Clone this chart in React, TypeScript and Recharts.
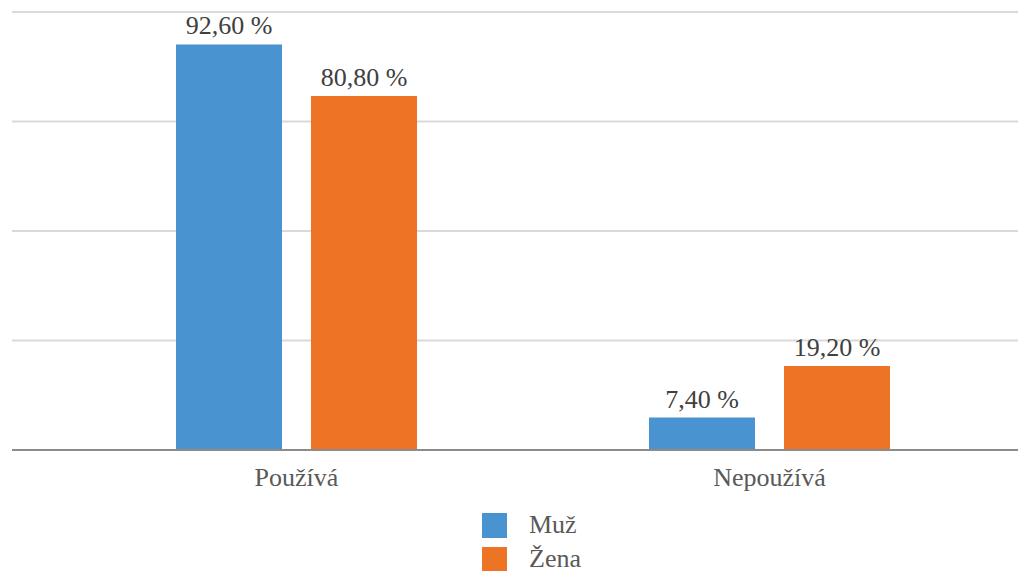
import { BarChart, Bar, XAxis, YAxis, CartesianGrid, LabelList } from "recharts";

const categories = ["Používá", "Nepoužívá"];
const seriesNames = ["Muž", "Žena"];
const muz = [92.6, 7.4];
const zena = [80.8, 19.2];
const yTicks = [0, 25, 50, 75, 100];

const COLORS = ["#4893D0", "#ED7425"];
const FONT = "'Liberation Serif', Tinos, Times";

const data = categories.map((name, i) => ({ name, muz: muz[i], zena: zena[i] }));

const fmt = (v: any) => `${Number(v).toFixed(2).replace(".", ",")} %`;

const css = `#root, #root *, #root svg text, .recharts-text { font-family: 'Liberation Serif', Tinos, Times !important; }`;

export default function App() {
    return (
        <div style={{ position: "relative", width: 1018, height: 563, fontFamily: FONT, fontSize: 26 }}>
            <style>{css}</style>
            <BarChart
                width={1018}
                height={563}
                data={data}
                margin={{ top: 4, right: 0, left: 4, bottom: 91 }}
                barSize={106}
                barGap={29}
            >
                <CartesianGrid vertical={false} stroke="#d9d9d9" strokeWidth={2} />
                <YAxis hide domain={[0, 100]} ticks={yTicks} />
                <XAxis
                    dataKey="name"
                    height={30}
                    padding={{ left: 48, right: 20 }}
                    axisLine={{ stroke: "#8c8c8c", strokeWidth: 2 }}
                    tickLine={false}
                    tickSize={0}
                    tickMargin={18}
                    tick={{ fill: "#595959", fontSize: 26, fontFamily: FONT }}
                />
                <Bar dataKey="muz" name={seriesNames[0]} fill={COLORS[0]} isAnimationActive={false}>
                    <LabelList dataKey="muz" position="top" offset={10} formatter={fmt} fill="#404040" fontSize={26} fontFamily={FONT} />
                </Bar>
                <Bar dataKey="zena" name={seriesNames[1]} fill={COLORS[1]} isAnimationActive={false}>
                    <LabelList dataKey="zena" position="top" offset={10} formatter={fmt} fill="#404040" fontSize={26} fontFamily={FONT} />
                </Bar>
            </BarChart>
            <div style={{ position: "absolute", left: 474, top: 500 }}>
                {seriesNames.map((n, i) => (
                    <div key={n} style={{ display: "flex", alignItems: "center", height: 34 }}>
                        <div style={{ width: 25, height: 25, background: COLORS[i], marginRight: 22 }} />
                        <span style={{ fontFamily: FONT, fontSize: 26, color: "#595959", lineHeight: "26px" }}>{n}</span>
                    </div>
                ))}
            </div>
        </div>
    );
}
